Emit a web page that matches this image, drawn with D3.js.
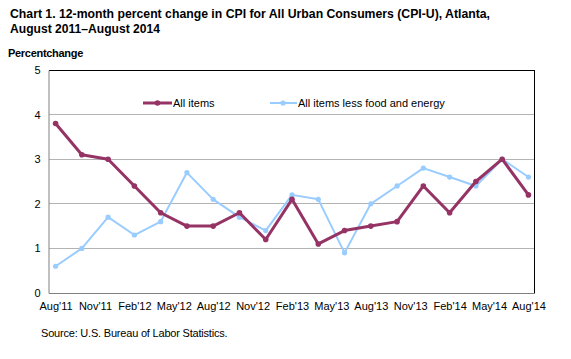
<!DOCTYPE html>
<html><head><meta charset="utf-8">
<script src="https://cdn.jsdelivr.net/npm/d3@7"></script>
<style>body{margin:0;background:#fff}svg{display:block}text{font-family:"Liberation Sans",Arial,sans-serif}</style>
</head><body><svg id="c" width="571" height="359"></svg>
<script>
// bimonthly observations (month index from Aug 2011)
const months = [0,2,4,6,8,10,12,14,16,18,20,22,24,26,28,30,32,34,36];
const allItems = [3.8,3.1,3.0,2.4,1.8,1.5,1.5,1.8,1.2,2.1,1.1,1.4,1.5,1.6,2.4,1.8,2.5,3.0,2.2];
const coreItems = [0.6,1.0,1.7,1.3,1.6,2.7,2.1,1.7,1.4,2.2,2.1,0.9,2.0,2.4,2.8,2.6,2.4,3.0,2.6];
const tickLabels = ["Aug'11","Nov'11","Feb'12","May'12","Aug'12","Nov'12","Feb'13","May'13","Aug'13","Nov'13","Feb'14","May'14","Aug'14"];
const tickMonths = [0,3,6,9,12,15,18,21,24,27,30,33,36];
const yTicks = [0,1,2,3,4,5];
const seriesNames = ["All items","All items less food and energy"];

const svg = d3.select("#c");
const L=49, R=535, T=70, B=293;
const step = (R-L)/37;
const x = d3.scaleLinear().domain([0,36]).range([L+step/2, L+step/2+36*step]);
const y = d3.scaleLinear().domain([0,5]).range([B,T]);

// title
svg.append("text").attr("x",10).attr("y",17.5).attr("font-size",13.5).attr("font-weight","bold")
  .attr("textLength",480).attr("lengthAdjust","spacingAndGlyphs")
  .text("Chart 1. 12-month  percent change in CPI for All Urban Consumers  (CPI-U),  Atlanta,");
svg.append("text").attr("x",10).attr("y",32.5).attr("font-size",13.5).attr("font-weight","bold")
  .attr("textLength",150).attr("lengthAdjust","spacingAndGlyphs")
  .text("August  2011\u2013August  2014");
svg.append("text").attr("x",8).attr("y",57).attr("font-size",11).attr("font-weight","bold").attr("letter-spacing","-0.3").text("Percentchange");

// gridlines
svg.append("g").selectAll("line").data(yTicks.filter(d=>d>0&&d<5)).join("line")
  .attr("x1",L).attr("x2",R).attr("y1",d=>y(d)).attr("y2",d=>y(d))
  .attr("stroke","#b3b3b3").attr("stroke-width",1).attr("shape-rendering","crispEdges");

// frame
svg.append("line").attr("x1",L).attr("x2",R).attr("y1",T+0.5).attr("y2",T+0.5).attr("stroke","#000");
svg.append("line").attr("x1",R-0.5).attr("x2",R-0.5).attr("y1",T).attr("y2",B).attr("stroke","#000");

// y axis
const ya = svg.append("g").attr("transform",`translate(${L-0.5},0)`)
  .call(d3.axisLeft(y).tickValues(yTicks).tickSize(0).tickPadding(8).tickFormat(d3.format("d")));
ya.select(".domain").attr("stroke","#808080");
ya.selectAll("text").attr("font-size",11).attr("font-family","Liberation Sans, Arial, sans-serif").attr("fill","#000");

// x axis
const xa = svg.append("g").attr("transform",`translate(0,${B+0.5})`)
  .call(d3.axisBottom(x).tickValues(tickMonths).tickSize(0).tickPadding(9).tickFormat((d,i)=>tickLabels[i]));
xa.select(".domain").attr("stroke","#808080").attr("d",`M${L},0H${R}`);
xa.selectAll("text").attr("font-size",11).attr("font-family","Liberation Sans, Arial, sans-serif").attr("fill","#000");

const red="#953364", blue="#99ccff";
function drawSeries(vals,color,w,r){
  const pts = months.map((m,i)=>[m,vals[i]]);
  svg.append("path").datum(pts).attr("fill","none").attr("stroke",color).attr("stroke-width",w)
    .attr("stroke-linejoin","round").attr("d",d3.line().x(d=>x(d[0])).y(d=>y(d[1])));
  svg.append("g").selectAll("circle").data(pts).join("circle")
    .attr("cx",d=>x(d[0])).attr("cy",d=>y(d[1])).attr("r",r).attr("fill",color);
}
drawSeries(coreItems,blue,2,2.6);
drawSeries(allItems,red,3,2.8);

// legend
const lg = svg.append("g");
lg.append("line").attr("x1",143).attr("x2",172).attr("y1",103).attr("y2",103).attr("stroke",red).attr("stroke-width",3);
lg.append("circle").attr("cx",157.5).attr("cy",103).attr("r",2.8).attr("fill",red);
lg.append("text").attr("x",173).attr("y",107).attr("font-size",11).text(seriesNames[0]);
lg.append("line").attr("x1",270).attr("x2",297).attr("y1",103).attr("y2",103).attr("stroke",blue).attr("stroke-width",2);
lg.append("circle").attr("cx",283).attr("cy",103).attr("r",2.6).attr("fill",blue);
lg.append("text").attr("x",298).attr("y",107).attr("font-size",11).text(seriesNames[1]);

svg.append("text").attr("x",41).attr("y",337).attr("font-size",11).attr("letter-spacing","-0.2").text("Source: U.S. Bureau of Labor Statistics.");
</script></body></html>
